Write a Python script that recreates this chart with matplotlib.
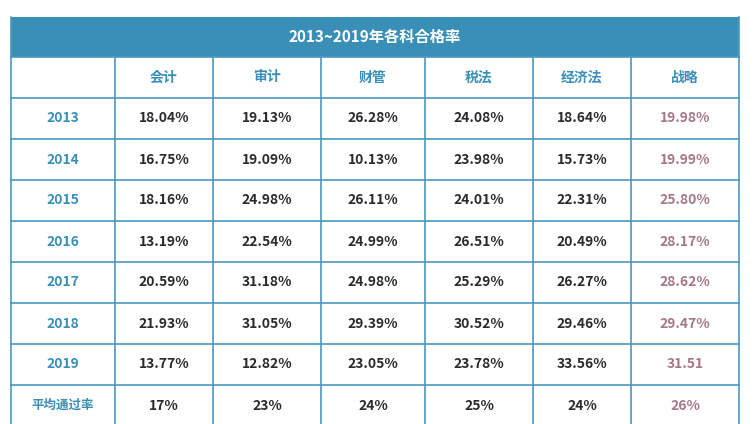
import matplotlib
matplotlib.use("Agg")
import matplotlib.pyplot as plt
from matplotlib.patches import Rectangle

title = "2013~2019年各科合格率"
subjects = ["会计", "审计", "财管", "税法", "经济法", "战略"]
years = ["2013", "2014", "2015", "2016", "2017", "2018", "2019"]
kuaiji = ["18.04%", "16.75%", "18.16%", "13.19%", "20.59%", "21.93%", "13.77%"]
shenji = ["19.13%", "19.09%", "24.98%", "22.54%", "31.18%", "31.05%", "12.82%"]
caiguan = ["26.28%", "10.13%", "26.11%", "24.99%", "24.98%", "29.39%", "23.05%"]
shuifa = ["24.08%", "23.98%", "24.01%", "26.51%", "25.29%", "30.52%", "23.78%"]
jingjifa = ["18.64%", "15.73%", "22.31%", "20.49%", "26.27%", "29.46%", "33.56%"]
zhanlue = ["19.98%", "19.99%", "25.80%", "28.17%", "28.62%", "29.47%", "31.51"]
avg_label = "平均通过率"
averages = ["17%", "23%", "24%", "25%", "24%", "26%"]

FONT = ["Noto Sans CJK SC", "Noto Sans CJK JP", "Noto Sans CJK TC", "DejaVu Sans"]
BLUE = "#3a8fb7"
LINE = "#4a97c0"
DARK = "#2b2b2b"
MAUVE = "#a57886"

fig = plt.figure(figsize=(7.54, 4.24), dpi=100)
ax = fig.add_axes([0, 0, 1, 1])
ax.set_xlim(0, 754)
ax.set_ylim(424, 0)
ax.axis("off")

xs = [11, 115, 213, 321, 425, 533, 631, 739]
ys = [57 + 41 * i for i in range(10)]
top = 17

ax.add_patch(Rectangle((xs[0], top), xs[-1] - xs[0], 57 - top, color=BLUE, lw=0))
ax.text((xs[0] + xs[-1]) / 2, (top + 57) / 2, title, ha="center", va="center",
        color="white", fontsize=11, fontweight="bold", family=FONT)

for y in ys:
    ax.plot([xs[0], xs[-1]], [y, y], color=LINE, lw=1.2)
for x in xs:
    ax.plot([x, x], [57, 424], color=LINE, lw=1.2)
ax.plot([xs[0], xs[0]], [top, 57], color=LINE, lw=1.2)
ax.plot([xs[-1], xs[-1]], [top, 57], color=LINE, lw=1.2)

def cx(c):
    return (xs[c] + xs[c + 1]) / 2

def cy(r):
    return (ys[r] + ys[r + 1]) / 2

def put(r, c, s, color, size=10):
    ax.text(cx(c), cy(r), s, ha="center", va="center", color=color,
            fontsize=size, fontweight="bold", family=FONT)

for j, s in enumerate(subjects):
    put(0, j + 1, s, BLUE)

cols = [kuaiji, shenji, caiguan, shuifa, jingjifa, zhanlue]
for i, yr in enumerate(years):
    put(i + 1, 0, yr, BLUE)
    for j, col in enumerate(cols):
        put(i + 1, j + 1, col[i], MAUVE if j == 5 else DARK)

put(8, 0, avg_label, BLUE, size=9)
for j, a in enumerate(averages):
    put(8, j + 1, a, MAUVE if j == 5 else DARK)

fig.savefig("out.png", dpi=100)
